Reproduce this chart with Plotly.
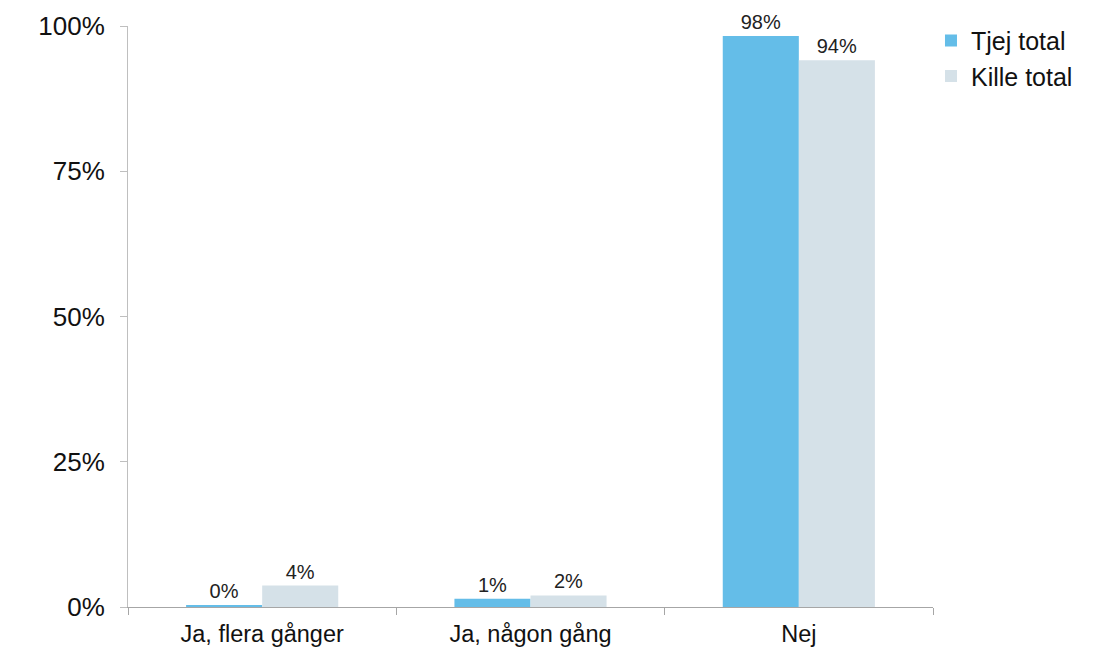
import plotly.graph_objects as go

categories = ["Ja, flera gånger", "Ja, någon gång", "Nej"]
tjej_total = [0.2, 1.4, 98.3]
kille_total = [3.7, 2.0, 94.1]
series_names = ["Tjej total", "Kille total"]
y_ticks = [0, 25, 50, 75, 100]
y_tick_labels = ["0%", "25%", "50%", "75%", "100%"]

colors = ["#64BDE8", "#D5E1E8"]
font_family = "Liberation Sans, Arial, sans-serif"

fig = go.Figure()
for name, vals, col, grp in zip(series_names, [tjej_total, kille_total], colors, ["a", "b"]):
    fig.add_trace(go.Bar(
        x=categories, y=vals, name=name, legendgroup=grp,
        marker=dict(color=col, line=dict(width=0)),
        texttemplate="%{y:.0f}%", textposition="outside",
        textfont=dict(size=20, color="#222222", family=font_family),
        cliponaxis=False,
    ))

# page body has an 8px margin, so the figure is offset by 8px
fig.update_layout(
    width=1085, height=640,
    margin=dict(l=120, r=160, t=18, b=41, autoexpand=False),
    paper_bgcolor="white", plot_bgcolor="white",
    barmode="group", bargap=0.433, bargroupgap=0,
    font=dict(family=font_family, color="#111111"),
    showlegend=True,
    legend=dict(x=0.9975, y=1.014, xanchor="left", yanchor="top",
                font=dict(size=25, family=font_family, color="#111111"),
                traceorder="grouped", tracegroupgap=0,
                bgcolor="rgba(0,0,0,0)"),
)
fig.update_xaxes(
    showline=True, linecolor="#A6A6A6", linewidth=1,
    ticks="outside", tickson="boundaries", ticklen=7, tickcolor="#A6A6A6",
    tickfont=dict(size=23.5, family=font_family, color="#111111"),
    ticklabelstandoff=6,
    showgrid=False, automargin=False,
)
fig.update_yaxes(
    range=[0, 100], tickvals=y_ticks, ticktext=y_tick_labels,
    showline=True, linecolor="#BFBFBF", linewidth=1,
    ticks="outside", ticklen=7, tickcolor="#BFBFBF",
    tickfont=dict(size=26, family=font_family, color="#111111"),
    ticklabelstandoff=10,
    showgrid=False, zeroline=False, automargin=False,
)

fig.write_html("out.html")
